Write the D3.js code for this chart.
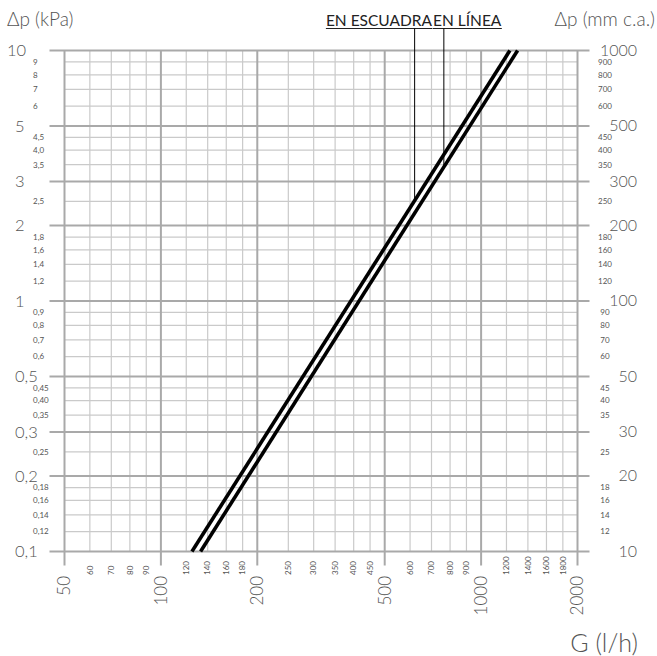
<!DOCTYPE html>
<html><head><meta charset="utf-8">
<script src="https://cdn.jsdelivr.net/npm/d3@7"></script>
<style>
html,body{margin:0;padding:0;background:#fff;}
svg{display:block;font-family:Lato,"Open Sans","DejaVu Sans",sans-serif;}
</style></head>
<body>
<svg id="c" width="657" height="656"></svg>
<script>
// ---- data ----
const xMajor = [50, 100, 200, 500, 1000, 2000];
const xMinor = [60, 70, 80, 90, 120, 140, 160, 180, 250, 300, 350, 400, 450, 600, 700, 800, 900, 1200, 1400, 1600, 1800];
const yMajor = [0.1, 0.2, 0.3, 0.5, 1, 2, 3, 5, 10];
const yMajorLabels = ["0,1", "0,2", "0,3", "0,5", "1", "2", "3", "5", "10"];
const yMinor = [0.12, 0.14, 0.16, 0.18, 0.25, 0.35, 0.40, 0.45, 0.6, 0.7, 0.8, 0.9, 1.2, 1.4, 1.6, 1.8, 2.5, 3.5, 4.0, 4.5, 6, 7, 8, 9];
const yMinorLabels = ["0,12", "0,14", "0,16", "0,18", "0,25", "0,35", "0,40", "0,45", "0,6", "0,7", "0,8", "0,9", "1,2", "1,4", "1,6", "1,8", "2,5", "3,5", "4,0", "4,5", "6", "7", "8", "9"];
const rMajor = [10, 20, 30, 50, 100, 200, 300, 500, 1000];
const rMinor = [12, 14, 16, 18, 25, 35, 40, 45, 60, 70, 80, 90, 120, 140, 160, 180, 250, 350, 400, 450, 600, 700, 800, 900];
const seriesNames = ["EN ESCUADRA", "EN LÍNEA"];
const escuadra = [[125, 0.1], [1230, 10]];
const linea = [[133, 0.1], [1300, 10]];
const leaderFlows = [620, 765];

// ---- layout ----
const svg = d3.select("#c");
const x = d3.scaleLog().domain([50, 2000]).range([64.5, 577.5]);
const y = d3.scaleLog().domain([0.1, 10]).range([551.5, 50.5]);
const yR = d3.scaleLog().domain([10, 1000]).range([551.5, 50.5]);
const majC = "#a9a9a9", minC = "#cacaca";

const g = svg.append("g");
// minor grid
g.selectAll(".vmin").data(xMinor).join("line")
  .attr("x1", d => x(d)).attr("x2", d => x(d)).attr("y1", y(10)).attr("y2", y(0.1))
  .attr("stroke", minC).attr("stroke-width", 1.2);
g.selectAll(".hmin").data(yMinor).join("line")
  .attr("x1", x(50)).attr("x2", x(2000)).attr("y1", d => y(d)).attr("y2", d => y(d))
  .attr("stroke", minC).attr("stroke-width", 1.2);
// major grid
g.selectAll(".vmaj").data(xMajor).join("line")
  .attr("x1", d => x(d)).attr("x2", d => x(d)).attr("y1", y(10)).attr("y2", y(0.1) + 14)
  .attr("stroke", majC).attr("stroke-width", 2);
g.selectAll(".hmaj").data(yMajor).join("line")
  .attr("x1", x(50) - 15).attr("x2", x(2000) + 12).attr("y1", d => y(d)).attr("y2", d => y(d))
  .attr("stroke", majC).attr("stroke-width", 2);

const txtC = "#555";
// left labels
g.selectAll(".lmaj").data(yMajor).join("text")
  .attr("x", d => d >= 10 ? 7 : 15).attr("y", d => y(d)).attr("dy", "0.35em")
  .attr("font-size", 16.5).attr("font-weight", 300).attr("fill", txtC)
  .text((d, i) => yMajorLabels[i]);
g.selectAll(".lmin").data(yMinor).join("text")
  .attr("x", 33).attr("y", d => y(d)).attr("dy", "0.35em")
  .attr("font-size", 8).attr("fill", txtC)
  .text((d, i) => yMinorLabels[i]);
// right labels
g.selectAll(".rmaj").data(rMajor).join("text")
  .attr("x", 637).attr("y", d => yR(d)).attr("dy", "0.33em").attr("text-anchor", "end")
  .attr("font-size", 16).attr("font-weight", 300).attr("fill", txtC)
  .text(d => d);
g.selectAll(".rmin").data(rMinor).join("text")
  .attr("x", 605).attr("y", d => yR(d)).attr("dy", "0.35em").attr("text-anchor", "middle")
  .attr("font-size", 8).attr("fill", txtC)
  .text(d => d);
// bottom labels
g.selectAll(".bmaj").data(xMajor).join("text")
  .attr("transform", d => `translate(${x(d)},576) rotate(-90)`)
  .attr("dy", "0.35em").attr("text-anchor", "end")
  .attr("font-size", 17).attr("font-weight", 300).attr("fill", txtC)
  .text(d => d);
g.selectAll(".bmin").data(xMinor).join("text")
  .attr("transform", d => `translate(${x(d)},575) rotate(-90)`)
  .attr("dy", "0.35em").attr("text-anchor", "start")
  .attr("font-size", 8).attr("fill", txtC)
  .text(d => d);

// titles
svg.append("text").attr("x", 7).attr("y", 26).attr("font-size", 19).attr("font-weight", 300).attr("fill", txtC).text("Δp (kPa)");
svg.append("text").attr("x", 655).attr("y", 26).attr("text-anchor", "end").attr("font-size", 19).attr("font-weight", 300).attr("fill", txtC).text("Δp (mm c.a.)");
svg.append("text").attr("x", 638).attr("y", 652).attr("text-anchor", "end").attr("font-size", 25).attr("font-weight", 300).attr("fill", txtC).text("G (l/h)");

// curves
const line = d3.line().x(d => x(d[0])).y(d => y(d[1]));
[escuadra, linea].forEach(s => {
  svg.append("path").attr("d", line(s)).attr("fill", "none").attr("stroke", "#000").attr("stroke-width", 3.6);
});

// legend labels with underline and leaders
const lab1 = svg.append("text").attr("x", 432).attr("y", 26).attr("text-anchor", "end")
  .attr("font-size", 15.5).attr("fill", "#222").text(seriesNames[0]);
const lab2 = svg.append("text").attr("x", 433).attr("y", 26).attr("text-anchor", "start")
  .attr("font-size", 15.5).attr("fill", "#222").text(seriesNames[1]);
[lab1, lab2].forEach(t => {
  const b = t.node().getBBox();
  svg.append("line").attr("x1", b.x).attr("x2", b.x + b.width).attr("y1", 28.5).attr("y2", 28.5)
    .attr("stroke", "#222").attr("stroke-width", 1);
});
function valAt(s, G) {
  const t = (Math.log(G) - Math.log(s[0][0])) / (Math.log(s[1][0]) - Math.log(s[0][0]));
  return Math.exp(Math.log(s[0][1]) + t * (Math.log(s[1][1]) - Math.log(s[0][1])));
}
[escuadra, linea].forEach((s, i) => {
  const G = leaderFlows[i];
  svg.append("line").attr("x1", x(G)).attr("x2", x(G)).attr("y1", 28.5).attr("y2", y(valAt(s, G)))
    .attr("stroke", "#000").attr("stroke-width", 1);
});
</script>
</body></html>
